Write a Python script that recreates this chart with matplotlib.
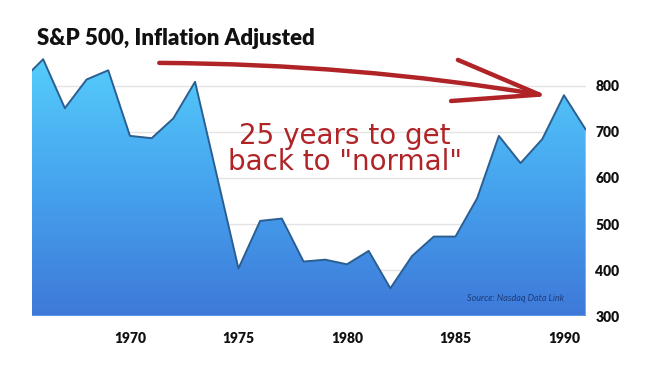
import numpy as np
import matplotlib
matplotlib.use("Agg")
import matplotlib.pyplot as plt
from matplotlib.colors import LinearSegmentedColormap
from matplotlib.patches import FancyArrowPatch

# -----------------------------
# Data
# -----------------------------
years = [1965, 1966, 1967, 1968, 1969, 1970, 1971, 1972, 1973,
         1975, 1976, 1977, 1978, 1979, 1980, 1981, 1982, 1983,
         1984, 1985, 1986, 1987, 1988, 1989, 1990, 1991]
values = [810, 857, 751, 813, 833, 691, 686, 729, 808,
          404, 507, 512, 419, 423, 413, 442, 361, 431,
          473, 473, 556, 691, 632, 684, 779, 705]

x_ticks = [1970, 1975, 1980, 1985, 1990]
y_ticks = [300, 400, 500, 600, 700, 800]

title = "S&P 500, Inflation Adjusted"
note = "25 years to get\nback to \"normal\""
source = "Source: Nasdaq Data Link"

# -----------------------------
# Figure
# -----------------------------
fig = plt.figure(figsize=(6.5, 3.7), dpi=100)
ax = fig.add_axes([0.0497, 0.1446, 0.8513, 0.7116])

x_min, x_max = 1965.5, 1991
y_min, y_max = 300, 870
ax.set_xlim(x_min, x_max)
ax.set_ylim(y_min, y_max)

# grid behind the area
for v in y_ticks[1:]:
    ax.axhline(v, color="#e3e3e3", linewidth=1, zorder=0)

# gradient area
cmap = LinearSegmentedColormap.from_list("blues", ["#3e79d9", "#46a3ee", "#55cdfb"])
area = ax.fill_between(years, values, y_min, facecolor="none", edgecolor="none", zorder=1)
grad = np.linspace(0, 1, 256).reshape(-1, 1)
img = ax.imshow(grad, extent=[x_min, x_max, y_min, 860], origin="lower",
                cmap=cmap, aspect="auto", zorder=1)
img.set_clip_path(area.get_paths()[0], transform=ax.transData)

ax.plot(years, values, color="#2b5f92", linewidth=1.4, zorder=2)
ax.axhline(y_min, color="#5b95e6", linewidth=1.5, zorder=2)

# axes styling
for s in ax.spines.values():
    s.set_visible(False)
ax.yaxis.tick_right()
ax.set_yticks(y_ticks)
ax.set_xticks(x_ticks)
ax.tick_params(length=0, labelsize=10)
ax.tick_params(axis="x", pad=11)
ax.tick_params(axis="y", pad=7)
for lab in ax.get_xticklabels() + ax.get_yticklabels():
    lab.set_fontfamily("Lato")
    lab.set_fontweight("heavy")
    lab.set_color("#111111")

# title
fig.text(0.057, 0.878, title, fontsize=16, fontweight="heavy",
         family="Lato", color="#111111", va="baseline")

# source note
ax.text(0.96, 0.07, source, transform=ax.transAxes, ha="right", va="center",
        fontsize=6.5, style="italic", color="#1d3d7a", family="Lato")

# hand-drawn style annotation
ax.text(1979.9, 662, note, ha="center", va="center", fontsize=20,
        color="#b02428", family="DejaVu Sans",
        linespacing=0.9, zorder=3)

arrow = FancyArrowPatch((1971.35, 849), (1989.3, 777),
                        connectionstyle="arc3,rad=-0.04",
                        arrowstyle="->,head_length=62,head_width=15",
                        shrinkA=0, shrinkB=0,
                        color="#b02428", linewidth=3.2, zorder=3,
                        capstyle="round", joinstyle="round")
ax.add_patch(arrow)

fig.savefig("out.png", dpi=100)
